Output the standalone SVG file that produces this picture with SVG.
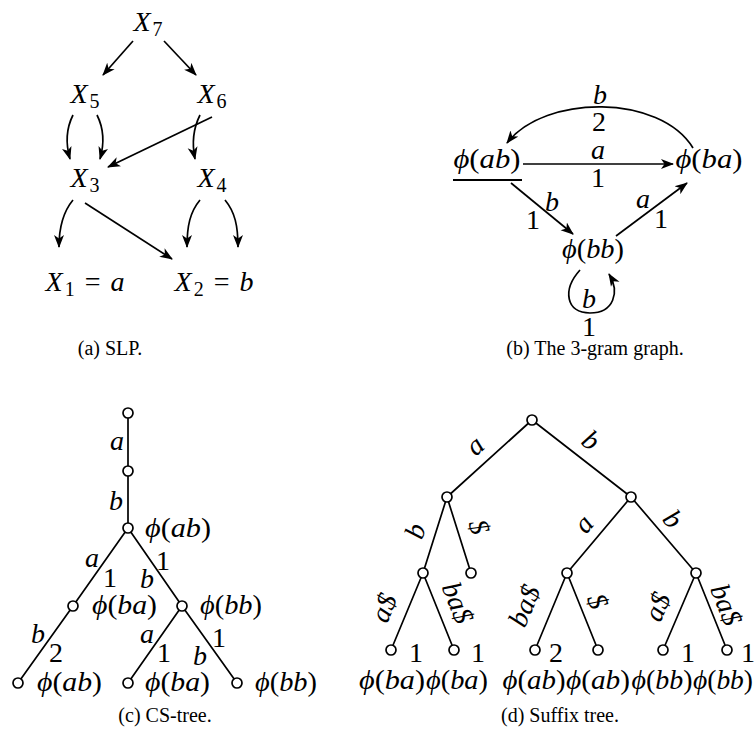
<svg xmlns="http://www.w3.org/2000/svg" width="755" height="744" viewBox="0 0 755 744">
<style>
.m{font-family:"Liberation Serif","DejaVu Serif",serif;font-size:28px;fill:#000}
.i{font-style:italic}
.s{font-size:20px}
.cap{font-family:"Liberation Serif","DejaVu Serif",serif;font-size:20px;fill:#000}
.e{stroke:#000;stroke-width:1.7;fill:none}
.a{marker-end:url(#ah)}
.nd{fill:#fff;stroke:#000;stroke-width:1.7}
</style>
<defs>
<marker id="ah" viewBox="0 0 13 11" refX="12" refY="5.5" markerWidth="13" markerHeight="11" markerUnits="userSpaceOnUse" orient="auto">
<path d="M0,0.5 L13,5.5 L0,10.5 L3.5,5.5 z" fill="#000"/>
</marker>
</defs>
<rect width="755" height="744" fill="#fff"/>

<!-- (a) SLP -->
<g id="a-connectors">
<path class="e a" d="M133,41 L103,75"/>
<path class="e a" d="M164,41 L196,75"/>
<path class="e a" d="M73,115 Q63,135 70,159"/>
<path class="e a" d="M97,115 Q107,135 100,159"/>
<path class="e a" d="M212,117 L108,167"/>
<path class="e a" d="M200,115 Q190,135 195,159"/>
<path class="e a" d="M73,200 C63,212 59,226 59,247"/>
<path class="e a" d="M85,203 L172,259"/>
<path class="e a" d="M200,200 C190,212 187,226 187,247"/>
<path class="e a" d="M225,200 C235,212 238,226 238,247"/>
</g>
<g id="a-X7"><text class="m" x="148" y="31" text-anchor="middle"><tspan class="i">X</tspan><tspan class="s" dx="2" dy="5">7</tspan></text></g>
<g id="a-X5"><text class="m" x="85" y="103" text-anchor="middle"><tspan class="i">X</tspan><tspan class="s" dx="2" dy="5">5</tspan></text></g>
<g id="a-X6"><text class="m" x="212" y="103" text-anchor="middle"><tspan class="i">X</tspan><tspan class="s" dx="2" dy="5">6</tspan></text></g>
<g id="a-X3"><text class="m" x="85" y="187" text-anchor="middle"><tspan class="i">X</tspan><tspan class="s" dx="2" dy="5">3</tspan></text></g>
<g id="a-X4"><text class="m" x="212" y="187" text-anchor="middle"><tspan class="i">X</tspan><tspan class="s" dx="2" dy="5">4</tspan></text></g>
<g id="a-X1"><text class="m" x="85" y="291" text-anchor="middle"><tspan class="i">X</tspan><tspan class="s" dx="2" dy="5">1</tspan><tspan dx="10" dy="-5">=</tspan><tspan class="i" dx="10">a</tspan></text></g>
<g id="a-X2"><text class="m" x="214" y="291" text-anchor="middle"><tspan class="i">X</tspan><tspan class="s" dx="2" dy="5">2</tspan><tspan dx="10" dy="-5">=</tspan><tspan class="i" dx="10">b</tspan></text></g>
<text class="cap" x="110" y="355" text-anchor="middle">(a) SLP.</text>

<!-- (b) 3-gram graph -->
<g id="b-connectors">
<path class="e a" d="M523,164 L673,164"/>
<path class="e a" d="M693,148 C660,94 545,94 507,143"/>
<path class="e a" d="M511,183 L573,234"/>
<path class="e a" d="M616,236 L687,183"/>
<path class="e a" d="M580,270 C562,290 566,313 590,313 C614,313 620,292 609,274"/>
<text class="m i" x="598" y="159" text-anchor="middle">a</text>
<text class="m" x="598" y="187" text-anchor="middle">1</text>
<text class="m i" x="600" y="104" text-anchor="middle">b</text>
<text class="m" x="599" y="131" text-anchor="middle">2</text>
<text class="m i" x="552" y="211" text-anchor="middle">b</text>
<text class="m" x="533" y="229" text-anchor="middle">1</text>
<text class="m i" x="643" y="208" text-anchor="middle">a</text>
<text class="m" x="661" y="228" text-anchor="middle">1</text>
<text class="m i" x="589" y="308" text-anchor="middle">b</text>
<text class="m" x="589" y="336" text-anchor="middle">1</text>
</g>
<g id="b-ab"><text class="m" x="487" y="168" text-anchor="middle" textLength="67" lengthAdjust="spacingAndGlyphs"><tspan class="i">ϕ</tspan>(<tspan class="i">ab</tspan>)</text>
<line x1="453" y1="180" x2="522" y2="180" stroke="#000" stroke-width="2"/></g>
<g id="b-ba"><text class="m" x="709" y="168" text-anchor="middle" textLength="67" lengthAdjust="spacingAndGlyphs"><tspan class="i">ϕ</tspan>(<tspan class="i">ba</tspan>)</text></g>
<g id="b-bb"><text class="m" x="593" y="258" text-anchor="middle" textLength="62" lengthAdjust="spacingAndGlyphs"><tspan class="i">ϕ</tspan>(<tspan class="i">bb</tspan>)</text></g>
<text class="cap" x="595" y="355" text-anchor="middle">(b) The 3-gram graph.</text>

<!-- (c) CS-tree -->
<g id="c-connectors">
<path class="e" d="M128,413 L128,528 M128,528 L73,606 M128,528 L182,606 M73,606 L18,683 M182,606 L128,683 M182,606 L237,683"/>
<text class="m i" x="117" y="450" text-anchor="middle">a</text>
<text class="m i" x="116" y="510" text-anchor="middle">b</text>
<text class="m i" x="92" y="567" text-anchor="middle">a</text>
<text class="m" x="110" y="587" text-anchor="middle">1</text>
<text class="m i" x="147" y="588" text-anchor="middle">b</text>
<text class="m" x="163" y="570" text-anchor="middle">1</text>
<text class="m i" x="38" y="643" text-anchor="middle">b</text>
<text class="m" x="56" y="662" text-anchor="middle">2</text>
<text class="m i" x="147" y="643" text-anchor="middle">a</text>
<text class="m" x="164" y="662" text-anchor="middle">1</text>
<text class="m i" x="200" y="665" text-anchor="middle">b</text>
<text class="m" x="219" y="647" text-anchor="middle">1</text>
</g>
<g id="c-n0"><circle class="nd" cx="128" cy="413" r="5"/></g>
<g id="c-n1"><circle class="nd" cx="128" cy="471" r="5"/></g>
<g id="c-n2"><circle class="nd" cx="128" cy="528" r="5"/><text class="m" x="145" y="537" textLength="66" lengthAdjust="spacingAndGlyphs"><tspan class="i">ϕ</tspan>(<tspan class="i">ab</tspan>)</text></g>
<g id="c-n3"><circle class="nd" cx="73" cy="606" r="5"/><text class="m" x="92" y="614" textLength="65" lengthAdjust="spacingAndGlyphs"><tspan class="i">ϕ</tspan>(<tspan class="i">ba</tspan>)</text></g>
<g id="c-n4"><circle class="nd" cx="182" cy="606" r="5"/><text class="m" x="200" y="614" textLength="62" lengthAdjust="spacingAndGlyphs"><tspan class="i">ϕ</tspan>(<tspan class="i">bb</tspan>)</text></g>
<g id="c-n5"><circle class="nd" cx="18" cy="683" r="5"/><text class="m" x="37" y="691" textLength="65" lengthAdjust="spacingAndGlyphs"><tspan class="i">ϕ</tspan>(<tspan class="i">ab</tspan>)</text></g>
<g id="c-n6"><circle class="nd" cx="128" cy="683" r="5"/><text class="m" x="145" y="691" textLength="65" lengthAdjust="spacingAndGlyphs"><tspan class="i">ϕ</tspan>(<tspan class="i">ba</tspan>)</text></g>
<g id="c-n7"><circle class="nd" cx="237" cy="683" r="5"/><text class="m" x="255" y="691" textLength="62" lengthAdjust="spacingAndGlyphs"><tspan class="i">ϕ</tspan>(<tspan class="i">bb</tspan>)</text></g>
<text class="cap" x="165" y="722" text-anchor="middle">(c) CS-tree.</text>

<!-- (d) Suffix tree -->
<g id="d-connectors">
<path class="e" d="M532,420 L447,497 M532,420 L631,497 M447,497 L423,573 M447,497 L471,573 M631,497 L567,573 M631,497 L696,573 M423,573 L391,650 M423,573 L454,650 M567,573 L535,650 M567,573 L598,650 M696,573 L663,650 M696,573 L727,650"/>
<text class="m i" text-anchor="middle" transform="translate(476.5,447.5) rotate(-42.2)" y="6.5">a</text>
<text class="m i" text-anchor="middle" transform="translate(591,440) rotate(37.9)" y="9.5">b</text>
<text class="m i" text-anchor="middle" transform="translate(415,531) rotate(-72.5)" y="9.5">b</text>
<text class="m i" text-anchor="middle" transform="translate(479,527) rotate(72.5)" y="9">$</text>
<text class="m i" text-anchor="middle" transform="translate(384.5,608) rotate(-67.4)" y="8.5">a$</text>
<text class="m i" text-anchor="middle" transform="translate(457,603) rotate(68.1)" y="8.5">ba$</text>
<text class="m i" text-anchor="middle" transform="translate(585.5,525.5) rotate(-49.9)" y="6.5">a</text>
<text class="m i" text-anchor="middle" transform="translate(673,519) rotate(49.5)" y="9.5">b</text>
<text class="m i" text-anchor="middle" transform="translate(525,606) rotate(-67.4)" y="8.5">ba$</text>
<text class="m i" text-anchor="middle" transform="translate(597.5,601.5) rotate(68.1)" y="9">$</text>
<text class="m i" text-anchor="middle" transform="translate(658,607) rotate(-66.8)" y="8.5">a$</text>
<text class="m i" text-anchor="middle" transform="translate(725.5,605) rotate(68.1)" y="8.5">ba$</text>
</g>
<g id="d-root"><circle class="nd" cx="532" cy="420" r="5"/></g>
<g id="d-L"><circle class="nd" cx="447" cy="497" r="5"/></g>
<g id="d-R"><circle class="nd" cx="631" cy="497" r="5"/></g>
<g id="d-LL"><circle class="nd" cx="423" cy="573" r="5"/></g>
<g id="d-LR"><circle class="nd" cx="471" cy="573" r="5"/></g>
<g id="d-RL"><circle class="nd" cx="567" cy="573" r="5"/></g>
<g id="d-RR"><circle class="nd" cx="696" cy="573" r="5"/></g>
<g id="d-LLL"><circle class="nd" cx="391" cy="650" r="5"/><text class="m" x="416" y="662" text-anchor="middle">1</text><text class="m" x="392" y="689" text-anchor="middle" textLength="66" lengthAdjust="spacingAndGlyphs"><tspan class="i">ϕ</tspan>(<tspan class="i">ba</tspan>)</text></g>
<g id="d-LLR"><circle class="nd" cx="454" cy="650" r="5"/><text class="m" x="478" y="662" text-anchor="middle">1</text><text class="m" x="457" y="689" text-anchor="middle" textLength="62" lengthAdjust="spacingAndGlyphs"><tspan class="i">ϕ</tspan>(<tspan class="i">ba</tspan>)</text></g>
<g id="d-RLL"><circle class="nd" cx="535" cy="650" r="5"/><text class="m" x="556" y="662" text-anchor="middle">2</text><text class="m" x="534" y="689" text-anchor="middle" textLength="63" lengthAdjust="spacingAndGlyphs"><tspan class="i">ϕ</tspan>(<tspan class="i">ab</tspan>)</text></g>
<g id="d-RLR"><circle class="nd" cx="598" cy="650" r="5"/><text class="m" x="598" y="689" text-anchor="middle" textLength="64" lengthAdjust="spacingAndGlyphs"><tspan class="i">ϕ</tspan>(<tspan class="i">ab</tspan>)</text></g>
<g id="d-RRL"><circle class="nd" cx="663" cy="650" r="5"/><text class="m" x="688" y="662" text-anchor="middle">1</text><text class="m" x="662" y="689" text-anchor="middle" textLength="61" lengthAdjust="spacingAndGlyphs"><tspan class="i">ϕ</tspan>(<tspan class="i">bb</tspan>)</text></g>
<g id="d-RRR"><circle class="nd" cx="727" cy="650" r="5"/><text class="m" x="748" y="662" text-anchor="middle">1</text><text class="m" x="723" y="689" text-anchor="middle" textLength="60" lengthAdjust="spacingAndGlyphs"><tspan class="i">ϕ</tspan>(<tspan class="i">bb</tspan>)</text></g>
<text class="cap" x="560" y="722" text-anchor="middle">(d) Suffix tree.</text>
</svg>
